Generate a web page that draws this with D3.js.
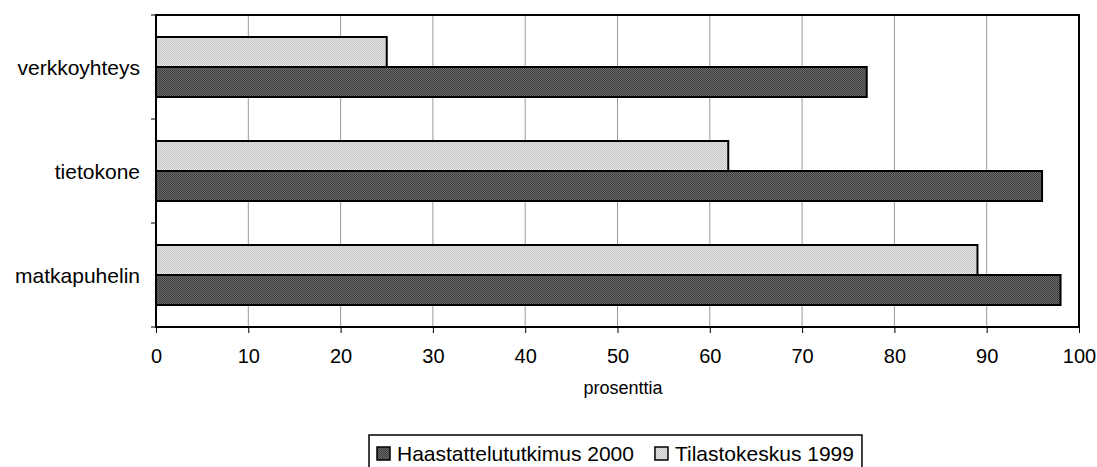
<!DOCTYPE html>
<html>
<head>
<meta charset="utf-8">
<script src="https://cdn.jsdelivr.net/npm/d3@7"></script>
<style>
  body { margin: 0; background: #fff; }
  svg text { font-family: "Liberation Sans", Arial, sans-serif; fill: #000; }
</style>
</head>
<body>
<svg width="1097" height="467"></svg>
<script>
// data
const categories = ["verkkoyhteys", "tietokone", "matkapuhelin"];
const seriesNames = ["Tilastokeskus 1999", "Haastattelututkimus 2000"];
const tilastokeskus1999 = [25, 62, 89];
const haastattelu2000 = [77, 96, 98];
const xTicks = [0, 10, 20, 30, 40, 50, 60, 70, 80, 90, 100];

const svg = d3.select("svg");
const plotLeft = 156, plotRight = 1079, plotTop = 15, plotBottom = 327;

// dithered fills like the scanned original
const defs = svg.append("defs");
function dither(id, base, dot) {
    const p = defs.append("pattern").attr("id", id)
        .attr("width", 2).attr("height", 2).attr("patternUnits", "userSpaceOnUse");
    p.append("rect").attr("width", 2).attr("height", 2).attr("fill", base);
    p.append("rect").attr("width", 1).attr("height", 1).attr("fill", dot);
    p.append("rect").attr("x", 1).attr("y", 1).attr("width", 1).attr("height", 1).attr("fill", dot);
}
dither("lightFill", "#e6e6e6", "#c4c4c4");
dither("darkFill", "#6a6a6a", "#3e3e3e");

const x = d3.scaleLinear().domain([0, 100]).range([plotLeft, plotRight]);
const y = d3.scaleBand().domain(categories).range([plotTop, plotBottom]).paddingInner(0).paddingOuter(0);
const inner = d3.scaleBand().domain(seriesNames).range([22, y.bandwidth() - 22]);

// gridlines
svg.append("g")
    .selectAll("line")
    .data(xTicks.slice(1, -1))
    .enter()
    .append("line")
    .attr("x1", d => x(d)).attr("x2", d => x(d))
    .attr("y1", plotTop).attr("y2", plotBottom)
    .attr("stroke", "#9a9a9a")
    .attr("stroke-width", 1);

// bars
const rows = categories.map((c, i) => ({ c, vals: [tilastokeskus1999[i], haastattelu2000[i]] }));
const fills = ["url(#lightFill)", "url(#darkFill)"];
rows.forEach(r => {
    svg.append("g")
        .selectAll("rect")
        .data(r.vals)
        .enter()
        .append("rect")
        .attr("x", x(0))
        .attr("y", (d, j) => y(r.c) + inner(seriesNames[j]))
        .attr("width", d => x(d) - x(0))
        .attr("height", inner.bandwidth())
        .attr("fill", (d, j) => fills[j])
        .attr("stroke", "#000")
        .attr("stroke-width", 2);
});

// frame
svg.append("rect")
    .attr("x", plotLeft).attr("y", plotTop)
    .attr("width", plotRight - plotLeft).attr("height", plotBottom - plotTop)
    .attr("fill", "none").attr("stroke", "#000").attr("stroke-width", 2);

// x axis
const xAxis = svg.append("g")
    .attr("transform", "translate(0," + plotBottom + ")")
    .call(d3.axisBottom(x).tickValues(xTicks).tickSize(6).tickPadding(16));
xAxis.select(".domain").remove();
xAxis.selectAll("line").attr("stroke", "#000");
xAxis.selectAll("text").style("font-size", "20px").attr("fill", "#000");

// y axis: ticks at band edges, labels centered
const edges = [plotTop, plotTop + y.bandwidth(), plotTop + 2 * y.bandwidth(), plotBottom];
svg.append("g")
    .selectAll("line")
    .data(edges)
    .enter()
    .append("line")
    .attr("x1", plotLeft - 5).attr("x2", plotLeft)
    .attr("y1", d => d).attr("y2", d => d)
    .attr("stroke", "#000");
svg.append("g")
    .selectAll("text")
    .data(categories)
    .enter()
    .append("text")
    .attr("x", plotLeft - 16)
    .attr("y", d => y(d) + y.bandwidth() / 2 + 1)
    .attr("dy", "0.35em")
    .attr("text-anchor", "end")
    .style("font-size", "21px")
    .text(d => d);

// axis title
svg.append("text")
    .attr("x", 623)
    .attr("y", 394)
    .attr("text-anchor", "middle")
    .style("font-size", "18px")
    .text("prosenttia");

// legend
const legend = svg.append("g");
const box = legend.append("rect")
    .attr("x", 369).attr("y", 435).attr("height", 34)
    .attr("fill", "#fff").attr("stroke", "#000").attr("stroke-width", 1.5);
const legendItems = [
    { name: seriesNames[1], fill: fills[1] },
    { name: seriesNames[0], fill: fills[0] }
];
let lx = 377;
legendItems.forEach(it => {
    legend.append("rect")
        .attr("x", lx).attr("y", 447).attr("width", 13).attr("height", 13)
        .attr("fill", it.fill).attr("stroke", "#000").attr("stroke-width", 1.5);
    const t = legend.append("text")
        .attr("x", lx + 20).attr("y", 461)
        .style("font-size", "21px")
        .text(it.name);
    lx += 20 + t.node().getComputedTextLength() + 21;
});
box.attr("width", lx - 369 - 13);
</script>
</body>
</html>
